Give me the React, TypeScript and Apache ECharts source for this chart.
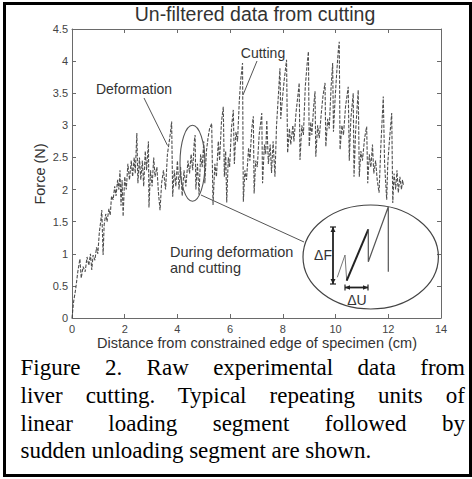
import React, { useEffect, useRef } from "react";
import * as echarts from "echarts";

const TITLE = "Un-filtered data from cutting";
const X_LABEL = "Distance from constrained edge of specimen (cm)";
const Y_LABEL = "Force (N)";
const X_TICKS = [0, 2, 4, 6, 8, 10, 12, 14];
const Y_TICKS = [0, 0.5, 1, 1.5, 2, 2.5, 3, 3.5, 4, 4.5];

const distance = [
  0.0, 0.06, 0.14, 0.22, 0.3, 0.35, 0.42, 0.5, 0.57, 0.64, 0.7, 0.75, 0.8, 0.87, 0.93, 0.98,
  1.04, 1.09, 1.13, 1.18, 1.22, 1.28, 1.33, 1.4, 1.45, 1.5, 1.56, 1.62, 1.67, 1.73, 1.78, 1.82,
  1.86, 1.9, 1.94, 2.0, 2.06, 2.12, 2.18, 2.25, 2.3, 2.36, 2.4, 2.46, 2.5, 2.56, 2.61, 2.67,
  2.72, 2.78, 2.83, 2.9, 2.92, 2.98, 3.04, 3.1, 3.15, 3.22, 3.28, 3.34, 3.4, 3.47, 3.55, 3.62,
  3.68, 3.74, 3.78, 3.82, 3.88, 3.94, 4.0, 4.06, 4.12, 4.18, 4.25, 4.32, 4.4, 4.46, 4.52, 4.58,
  4.64, 4.67, 4.7, 4.76, 4.82, 4.88, 4.94, 5.0, 5.04, 5.1, 5.16, 5.22, 5.3, 5.35, 5.42, 5.48,
  5.55, 5.6, 5.67, 5.74, 5.78, 5.83, 5.87, 5.93, 5.98, 6.05, 6.12, 6.16, 6.22, 6.28, 6.35, 6.4,
  6.47, 6.5, 6.56, 6.62, 6.7, 6.75, 6.82, 6.88, 6.91, 6.97, 7.03, 7.1, 7.16, 7.2, 7.23, 7.3,
  7.35, 7.39, 7.45, 7.52, 7.57, 7.63, 7.7, 7.76, 7.82, 7.89, 7.92, 7.98, 8.05, 8.14, 8.18, 8.25,
  8.3, 8.38, 8.42, 8.5, 8.58, 8.62, 8.65, 8.72, 8.78, 8.85, 8.92, 8.97, 9.0, 9.06, 9.1, 9.17,
  9.22, 9.25, 9.32, 9.38, 9.45, 9.52, 9.6, 9.63, 9.7, 9.76, 9.83, 9.89, 9.92, 9.98, 10.04, 10.1,
  10.14, 10.17, 10.24, 10.3, 10.38, 10.48, 10.52, 10.58, 10.67, 10.7, 10.76, 10.82, 10.86, 10.9,
  10.96, 11.02, 11.1, 11.18, 11.22, 11.28, 11.34, 11.4, 11.45, 11.52, 11.58, 11.65, 11.72, 11.78,
  11.81, 11.86, 11.94, 11.98, 12.05, 12.13, 12.17, 12.22, 12.28, 12.33, 12.38, 12.44, 12.5, 12.54,
  12.58,
];

const force = [
  0.0, 0.25, 0.45, 0.72, 0.92, 0.62, 0.8, 0.72, 0.95, 0.82, 1.0, 0.75, 0.98, 0.9, 1.1, 1.0,
  1.35, 1.5, 1.68, 0.98, 1.45, 1.62, 1.5, 1.7, 1.6, 1.9, 1.84, 2.05, 1.9, 2.15, 2.0, 2.3,
  1.75, 2.15, 1.58, 2.2, 2.0, 2.4, 2.15, 2.45, 2.2, 2.5, 2.25, 2.88, 2.1, 2.5, 2.15, 2.45,
  2.05, 2.6, 2.3, 2.75, 1.72, 2.3, 2.05, 2.5, 2.2, 2.35, 1.95, 1.68, 2.1, 2.3, 2.0, 2.55,
  2.72, 2.9, 3.06, 1.89, 2.3, 2.05, 2.45, 2.0, 2.35, 1.9, 2.3, 2.05, 2.45, 2.25, 2.55, 2.3,
  2.75, 2.85, 2.0, 2.4, 1.92, 2.55, 2.35, 2.75, 2.1, 2.6, 2.8, 2.95, 3.03, 1.76, 2.4, 2.2,
  2.75, 2.45, 3.05, 3.29, 2.2, 2.6, 1.8, 2.5, 2.35, 2.95, 3.24, 2.4, 2.9, 2.75, 3.4, 3.7,
  3.97, 1.81, 2.3, 2.15, 2.65, 2.45, 2.95, 3.14, 1.94, 2.45, 2.35, 2.85, 3.05, 3.19, 2.1, 2.7,
  2.55, 3.08, 2.4, 2.7, 2.26, 2.75, 2.2, 3.0, 3.4, 3.89, 3.1, 3.4, 3.7, 4.02, 2.57, 2.95,
  2.7, 3.0, 2.75, 3.2, 3.5, 3.66, 2.46, 3.0, 2.85, 3.6, 3.95, 4.15, 2.67, 3.05, 2.85, 3.3,
  3.53, 2.51, 3.0, 2.8, 3.15, 3.45, 3.66, 2.67, 3.1, 2.95, 3.6, 3.97, 2.9, 3.4, 3.8, 4.15,
  4.3, 2.62, 3.0, 2.85, 3.3, 3.6, 2.45, 3.1, 3.5, 2.2, 2.9, 3.3, 3.55, 2.2,
  2.6, 2.45, 2.8, 2.98, 2.1, 2.55, 2.35, 2.7, 2.25, 2.45, 2.15, 1.95, 2.7, 3.2,
  3.45, 2.4, 1.84, 2.4, 2.8, 3.19, 1.79, 2.25, 2.0, 2.3, 1.95, 2.2, 2.0, 2.15,
  2.05,
];

const ANNOTATION_DEFORMATION = "Deformation";
const ANNOTATION_CUTTING = "Cutting";
const INSET_LINE_1 = "During deformation";
const INSET_LINE_2 = "and cutting";
const DELTA_F = "\u0394F";
const DELTA_U = "\u0394U";

const CAPTION_LINES = [
  "Figure 2. Raw experimental data from",
  "liver cutting. Typical repeating units of",
  "linear loading segment followed by",
  "sudden unloading segment are shown.",
];

const SANS = '"Liberation Sans", Arial, sans-serif';

export default function App() {
  const ref = useRef<HTMLDivElement>(null);

  useEffect(() => {
    if (!ref.current) return;
    const chart = echarts.init(ref.current, undefined, { renderer: "svg" });
    const data = distance.map((d, i) => [d, force[i]]);
    const axisColor = "#6a6a6a";
    const labelColor = "#444";
    const xMin = X_TICKS[0];
    const xMax = X_TICKS[X_TICKS.length - 1];
    const xInt = X_TICKS[1] - X_TICKS[0];
    const yMin = Y_TICKS[0];
    const yMax = Y_TICKS[Y_TICKS.length - 1];
    const yInt = Y_TICKS[1] - Y_TICKS[0];

    const baseAxis = (showLabel: boolean) => ({
      type: "value" as const,
      axisLine: { show: true, onZero: false, lineStyle: { color: axisColor, width: 1 } },
      axisTick: { show: true, inside: true, length: 4, lineStyle: { color: axisColor } },
      axisLabel: { show: showLabel, color: labelColor, fontSize: 11, fontFamily: SANS },
      splitLine: { show: false },
    });

    const text = (t: string, x: number, y: number, size: number, align: string, extra: any = {}) => ({
      type: "text",
      x,
      y,
      z: 100,
      ...extra,
      style: {
        text: t,
        fill: "#333",
        fontSize: size,
        fontFamily: SANS,
        align,
        verticalAlign: "middle",
      },
    });

    const line = (x1: number, y1: number, x2: number, y2: number, stroke: string, w: number) => ({
      type: "line",
      z: 100,
      shape: { x1, y1, x2, y2 },
      style: { stroke, lineWidth: w },
    });

    chart.setOption({
      animation: false,
      backgroundColor: "#fff",
      grid: { left: 72, top: 29, width: 369, height: 289 },
      xAxis: [
        { ...baseAxis(true), position: "bottom", min: xMin, max: xMax, interval: xInt, axisLabel: { ...baseAxis(true).axisLabel, margin: 5 } },
        { ...baseAxis(false), position: "top", min: xMin, max: xMax, interval: xInt },
      ],
      yAxis: [
        { ...baseAxis(true), position: "left", min: yMin, max: yMax, interval: yInt, axisLabel: { ...baseAxis(true).axisLabel, margin: 4 } },
        { ...baseAxis(false), position: "right", min: yMin, max: yMax, interval: yInt },
      ],
      series: [
        {
          type: "line",
          xAxisIndex: 0,
          yAxisIndex: 0,
          data,
          showSymbol: false,
          symbol: "none",
          lineStyle: { color: "#3c3c3c", width: 1.1, type: [3.5, 1.5], opacity: 0.9 },
        },
      ],
      graphic: [
        text(TITLE, 255, 14, 19.5, "center"),
        text(X_LABEL, 257, 343, 14.5, "center"),
        text(Y_LABEL, 40, 174, 14.5, "center", { rotation: Math.PI / 2 }),
        text(ANNOTATION_DEFORMATION, 134, 89, 14, "center"),
        text(ANNOTATION_CUTTING, 263, 53, 14, "center"),
        text(INSET_LINE_1, 170, 252, 14.5, "left"),
        text(INSET_LINE_2, 170, 267.5, 14.5, "left"),
        text(DELTA_F, 323, 255, 14, "center"),
        text(DELTA_U, 357, 300, 14, "center"),
        // pointer lines
        line(144, 98, 167.5, 145.5, "#555", 1),
        line(257, 61, 243, 95, "#555", 1),
        line(201, 195, 304, 242, "#555", 1),
        // ellipses
        {
          type: "ellipse",
          z: 100,
          shape: { cx: 192.5, cy: 163.3, rx: 12.5, ry: 38 },
          style: { fill: "none", stroke: "#555", lineWidth: 1.1 },
        },
        {
          type: "ellipse",
          z: 100,
          shape: { cx: 370.7, cy: 257, rx: 67.7, ry: 52 },
          style: { fill: "none", stroke: "#444", lineWidth: 1.2 },
        },
        // inset sawtooth
        {
          type: "polyline",
          z: 100,
          shape: { points: [[337.3, 277.3], [345, 255], [346.7, 280.7]] },
          style: { fill: "none", stroke: "#777", lineWidth: 1 },
        },
        line(346.7, 280.7, 368.3, 229.3, "#222", 2),
        {
          type: "polyline",
          z: 100,
          shape: { points: [[368.3, 229.3], [368.3, 261.7], [388.3, 206.7], [388.3, 271.7]] },
          style: { fill: "none", stroke: "#555", lineWidth: 1.2 },
        },
        // delta F arrow
        line(333, 227, 333, 284, "#222", 1.8),
        line(330, 227, 336, 227, "#222", 1.2),
        line(330, 284, 336, 284, "#222", 1.2),
        { type: "polygon", z: 100, shape: { points: [[333, 227], [330.5, 232], [335.5, 232]] }, style: { fill: "#222" } },
        { type: "polygon", z: 100, shape: { points: [[333, 284], [330.5, 279], [335.5, 279]] }, style: { fill: "#222" } },
        // delta U arrow
        line(345, 287.5, 368, 287.5, "#222", 1.8),
        line(345, 284.5, 345, 290.5, "#222", 1.2),
        line(368, 284.5, 368, 290.5, "#222", 1.2),
        { type: "polygon", z: 100, shape: { points: [[345, 287.5], [350, 285.2], [350, 289.8]] }, style: { fill: "#222" } },
        { type: "polygon", z: 100, shape: { points: [[368, 287.5], [363, 285.2], [363, 289.8]] }, style: { fill: "#222" } },
      ],
    });
    return () => chart.dispose();
  }, []);

  return (
    <div style={{ position: "absolute", left: 0, top: 0, width: 472, height: 479, background: "#fff", overflow: "hidden" }}>
      <div ref={ref} style={{ position: "absolute", left: 0, top: 0, width: 472, height: 479 }} />
      <div
        style={{
          position: "absolute",
          left: 20.5,
          top: 354,
          width: 444.5,
          fontFamily: '"Liberation Serif", "Times New Roman", serif',
          fontSize: 23,
          lineHeight: "27.8px",
          color: "#000",
        }}
      >
        {CAPTION_LINES.map((l, i) => (
          <div
            key={i}
            style={{
              textAlign: i < CAPTION_LINES.length - 1 ? "justify" : "left",
              textAlignLast: i < CAPTION_LINES.length - 1 ? "justify" : "left",
              whiteSpace: "nowrap",
            } as React.CSSProperties}
          >
            {l}
          </div>
        ))}
      </div>
      <div
        style={{
          position: "absolute",
          left: 3,
          top: 2,
          width: 469,
          height: 475,
          border: "3px solid #000",
          boxSizing: "border-box",
          pointerEvents: "none",
        }}
      />
    </div>
  );
}
